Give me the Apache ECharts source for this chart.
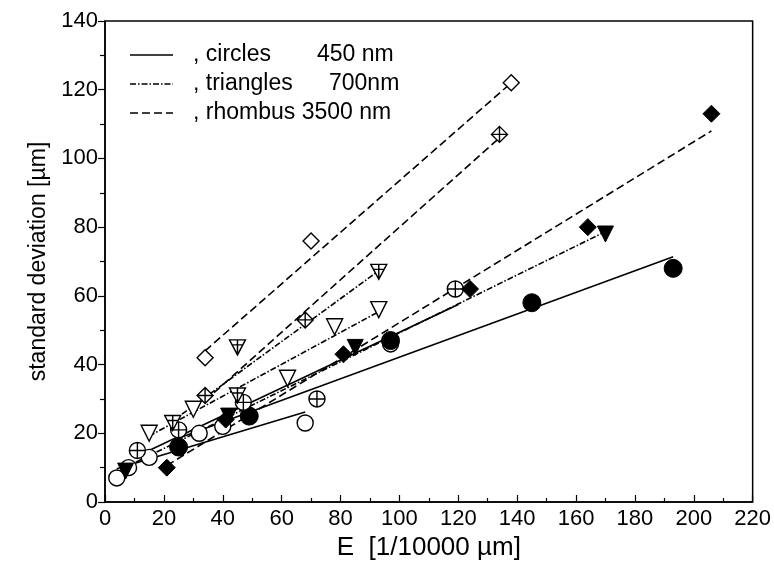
<!DOCTYPE html>
<html>
<head>
<meta charset="utf-8">
<script src="https://cdn.jsdelivr.net/npm/echarts@6/dist/echarts.min.js"></script>
<style>
  html, body { margin: 0; padding: 0; background: #fff; }
  #chart { width: 774px; height: 568px; }
</style>
</head>
<body>
<div id="chart"></div>
<script>
// ---- data (x: E [1/10000 µm], y: standard deviation [µm]) ----
const openCircles      = [[4,7],[8,10],[15,13],[32,20],[40,22],[68,23],[97,46]];
const filledCircles    = [[25,16],[49,25],[97,47],[145,58],[193,68]];
const crossedCircles   = [[11,15],[25,21],[47,29],[72,30],[119,62]];
const openTriangles    = [[15,20],[30,27],[62,36],[78,51],[93,56]];
const crossedTriangles = [[23,23],[45,31],[45,45],[93,67]];
const filledTriangles  = [[7,9],[42,25],[85,45],[170,78]];
const openDiamonds     = [[34,42],[70,76],[138,122]];
const crossedDiamonds  = [[34,31],[68,53],[134,107]];
const filledDiamonds   = [[21,10],[41,24],[81,43],[124,62],[164,80],[206,113]];

// fitted lines (end points)
const fitOpenCircles      = [[4,9.7],[68,26.2]];
const fitFilledCircles    = [[24,18.3],[193,71.4]];
const fitCrossedCircles   = [[11,13.4],[120,57.5]];
const fitOpenTriangles    = [[15,19.2],[93,55.4]];
const fitCrossedTriangles = [[23,23.6],[93,67.3]];
const fitFilledTriangles  = [[7,10.1],[170,78.7]];
const fitOpenDiamonds     = [[34,44],[138,122]];
const fitCrossedDiamonds  = [[34,29.5],[134,106]];
const fitFilledDiamonds   = [[21,10.6],[206,108]];

const legendLabels = [', circles', ', triangles', ', rhombus 3500 nm'];
const legendWaves  = ['450 nm', '700nm', ''];
const xName = 'E  [1/10000 µm]';
const yName = 'standard deviation [µm]';

// ---- styling ----
const FONT = '"Liberation Sans", Arial, Helvetica, sans-serif';
const SOLID = 'solid';
const DASHDOT = [6, 2, 1.5, 2];
const DASHED = [8, 4];

const CROSS_CIRCLE = 'path://M0,10A10,10 0 1,1 20,10A10,10 0 1,1 0,10ZM10,0L10,20M0,10L20,10';
const CROSS_TRI = 'path://M0,0L20,0L10,18ZM10,0L10,18M3,6L17,6';
const CROSS_DIAM = 'path://M10,0L20,10L10,20L0,10ZM10,0L10,20M0,10L20,10';

function fitLine(data, type) {
  return {
    type: 'line', data: data, showSymbol: false, silent: true, z: 2,
    lineStyle: { color: '#000', width: 1.6, type: type },
    animation: false
  };
}
function scatter(data, symbol, size, filled, rotate) {
  return {
    type: 'scatter', data: data, symbol: symbol, symbolSize: size,
    symbolRotate: rotate || 0, z: 5, animation: false, silent: true,
    itemStyle: filled
      ? { color: '#000', borderColor: '#000', borderWidth: 1, opacity: 1 }
      : { color: '#fff', borderColor: '#000', borderWidth: 1.4, opacity: 1 }
  };
}

const chart = echarts.init(document.getElementById('chart'), null, { renderer: 'canvas' });
const legendX1 = 130, legendX2 = 173, legendText = 193;
const rowsY = [55, 84, 113];
const rowStyles = [SOLID, DASHDOT, DASHED];
const waveX = [317, 329, 0];

const graphics = [];
rowsY.forEach((y, i) => {
  graphics.push({
    type: 'line', shape: { x1: legendX1, y1: y, x2: legendX2, y2: y },
    style: { stroke: '#000', lineWidth: 1.5, lineDash: rowStyles[i] === SOLID ? null : rowStyles[i] }
  });
  graphics.push({
    type: 'text', x: legendText, y: y,
    style: { text: legendLabels[i], font: '23px ' + FONT, fill: '#000', verticalAlign: 'middle' }
  });
  if (legendWaves[i]) {
    graphics.push({
      type: 'text', x: waveX[i], y: y,
      style: { text: legendWaves[i], font: '23px ' + FONT, fill: '#000', verticalAlign: 'middle' }
    });
  }
});

chart.setOption({
  backgroundColor: '#fff',
  animation: false,
  grid: { left: 105, right: 17, top: 21, bottom: 66, show: true, borderColor: '#000', borderWidth: 1.5 },
  xAxis: {
    type: 'value', min: 0, max: 220, interval: 20,
    name: xName, nameLocation: 'middle', nameGap: 33,
    nameTextStyle: { fontSize: 26, fontFamily: FONT, color: '#000' },
    axisLine: { lineStyle: { color: '#000', width: 1.5 } },
    axisTick: { inside: true, length: 7, lineStyle: { color: '#000', width: 1.2 } },
    minorTick: { show: true, splitNumber: 2, length: 4, lineStyle: { color: '#000', width: 1.2 } },
    axisLabel: { fontSize: 22, fontFamily: FONT, color: '#000', margin: 6 },
    splitLine: { show: false }
  },
  yAxis: {
    type: 'value', min: 0, max: 140, interval: 20,
    name: yName, nameLocation: 'middle', nameGap: 51, nameRotate: 90,
    nameTextStyle: { fontSize: 23, fontFamily: FONT, color: '#000' },
    axisLine: { lineStyle: { color: '#000', width: 1.5 } },
    axisTick: { inside: false, length: 7, lineStyle: { color: '#000', width: 1.2 } },
    minorTick: { show: true, splitNumber: 2, length: 5, lineStyle: { color: '#000', width: 1.2 } },
    axisLabel: { fontSize: 22, fontFamily: FONT, color: '#000', margin: 7 },
    splitLine: { show: false }
  },
  graphic: graphics,
  series: [
    fitLine(fitOpenCircles, SOLID),
    fitLine(fitFilledCircles, SOLID),
    fitLine(fitCrossedCircles, SOLID),
    fitLine(fitOpenTriangles, DASHDOT),
    fitLine(fitCrossedTriangles, DASHDOT),
    fitLine(fitFilledTriangles, DASHDOT),
    fitLine(fitOpenDiamonds, DASHED),
    fitLine(fitCrossedDiamonds, DASHED),
    fitLine(fitFilledDiamonds, DASHED),
    scatter(openCircles, 'circle', 16, false),
    scatter(filledCircles, 'circle', 18, true),
    scatter(crossedCircles, CROSS_CIRCLE, 16, false),
    scatter(openTriangles, 'triangle', 16, false, 180),
    scatter(crossedTriangles, CROSS_TRI, [16, 15], false),
    scatter(filledTriangles, 'triangle', 16, true, 180),
    scatter(openDiamonds, 'diamond', 16, false),
    scatter(crossedDiamonds, CROSS_DIAM, 16, false),
    scatter(filledDiamonds, 'diamond', 17, true)
  ]
});
</script>
</body>
</html>
